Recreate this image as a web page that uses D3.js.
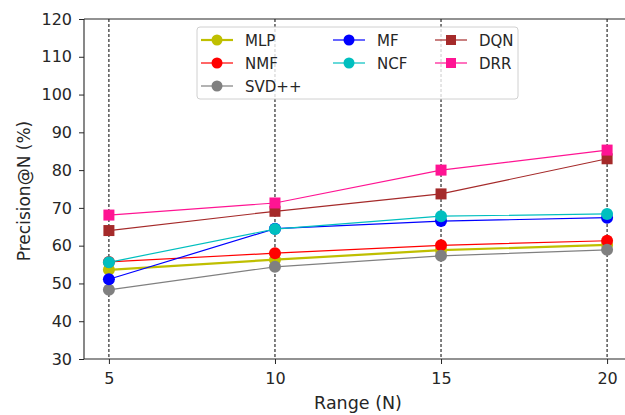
<!DOCTYPE html>
<html>
<head>
<meta charset="utf-8">
<script src="https://cdn.jsdelivr.net/npm/d3@7"></script>
<style>
  body { margin: 0; background: #fff; }
  text { font-family: "DejaVu Sans", sans-serif; fill: #262626; }
</style>
</head>
<body>
<script>
// data
var rangeN = [5, 10, 15, 20];
var yTicks = [30, 40, 50, 60, 70, 80, 90, 100, 110, 120];
var names = ["MLP", "NMF", "SVD++", "MF", "NCF", "DQN", "DRR"];
var mlp  = [53.6, 56.3, 58.8, 60.2];
var nmf  = [55.7, 58.0, 60.1, 61.3];
var svd  = [48.3, 54.4, 57.3, 58.9];
var mf   = [51.1, 64.5, 66.5, 67.4];
var ncf  = [55.6, 64.4, 67.8, 68.4];
var dqn  = [64.0, 69.1, 73.7, 83.0];
var drr  = [68.1, 71.3, 80.0, 85.3];

var series = [
  {name: names[0], vals: mlp, color: "#bfbf00", marker: "circle", w: 2.2},
  {name: names[1], vals: nmf, color: "#ff0000", marker: "circle", w: 1.2},
  {name: names[2], vals: svd, color: "#808080", marker: "circle", w: 1.2},
  {name: names[3], vals: mf,  color: "#0000ff", marker: "circle", w: 1.2},
  {name: names[4], vals: ncf, color: "#00bfbf", marker: "circle", w: 1.2},
  {name: names[5], vals: dqn, color: "#a52a2a", marker: "square", w: 1.2},
  {name: names[6], vals: drr, color: "#ff1493", marker: "square", w: 1.2}
];

var width = 625, height = 415;
var pLeft = 84, pTop = 19, pRight = 632, pBottom = 359;

var svg = d3.select("body").append("svg")
  .attr("width", width).attr("height", height);

var x = d3.scaleLinear().domain([4.25, 20.75]).range([pLeft, pRight]);
var y = d3.scaleLinear().domain([30, 120]).range([pBottom, pTop]);

// dashed vertical grid
svg.append("g").selectAll("line")
  .data(rangeN).enter().append("line")
  .attr("x1", d => x(d)).attr("x2", d => x(d))
  .attr("y1", pTop).attr("y2", pBottom)
  .attr("stroke", "#000").attr("stroke-width", 1)
  .attr("stroke-dasharray", "3,2");

// lines + markers
var line = d3.line().x((d, i) => x(rangeN[i])).y(d => y(d));
series.forEach(function(s) {
  var g = svg.append("g");
  g.append("path").attr("d", line(s.vals))
    .attr("fill", "none").attr("stroke", s.color).attr("stroke-width", s.w);
  if (s.marker == "circle") {
    g.selectAll("circle").data(s.vals).enter().append("circle")
      .attr("cx", (d, i) => x(rangeN[i])).attr("cy", d => y(d))
      .attr("r", 6).attr("fill", s.color);
  } else {
    g.selectAll("rect").data(s.vals).enter().append("rect")
      .attr("x", (d, i) => x(rangeN[i]) - 5.5).attr("y", d => y(d) - 5.5)
      .attr("width", 11).attr("height", 11).attr("fill", s.color);
  }
});

// axes
var xAxis = svg.append("g").attr("transform", "translate(0," + pBottom + ")")
  .call(d3.axisBottom(x).tickValues(rangeN).tickSize(5).tickPadding(9));
var yAxis = svg.append("g").attr("transform", "translate(" + pLeft + ",0)")
  .call(d3.axisLeft(y).tickValues(yTicks).tickSize(5).tickPadding(7));
[xAxis, yAxis].forEach(function(a) {
  a.select(".domain").remove();
  a.attr("font-family", null).attr("font-size", null);
  a.selectAll("line").attr("stroke", "#262626");
  a.selectAll("text").style("font-size", "16px").attr("fill", "#262626");
});
// spines
svg.append("line").attr("x1", pLeft).attr("x2", pRight).attr("y1", pBottom).attr("y2", pBottom)
  .attr("stroke", "#262626").attr("stroke-width", 1.1);
svg.append("line").attr("x1", pLeft).attr("x2", pRight).attr("y1", pTop).attr("y2", pTop)
  .attr("stroke", "#262626").attr("stroke-width", 1.1);
svg.append("line").attr("x1", pLeft).attr("x2", pLeft).attr("y1", pTop).attr("y2", pBottom)
  .attr("stroke", "#262626").attr("stroke-width", 1.1);

// axis labels
svg.append("text").attr("x", 358).attr("y", 409)
  .attr("text-anchor", "middle").style("font-size", "17.5px").text("Range (N)");
svg.append("text").attr("transform", "translate(30,191) rotate(-90)")
  .attr("text-anchor", "middle").style("font-size", "17px").text("Precision@N (%)");

// legend
var legend = svg.append("g");
legend.append("rect").attr("x", 197).attr("y", 27).attr("width", 321).attr("height", 72)
  .attr("rx", 3).attr("fill", "#fff").attr("fill-opacity", 0.8)
  .attr("stroke", "#d0d0d0").attr("stroke-width", 1);
var colX = [201, 333, 435];
var rowY = [40, 63, 86];
series.forEach(function(s, i) {
  var c = Math.floor(i / 3), r = i % 3;
  if (i >= 5) { c = 2; r = i - 5; }
  var lx = colX[c], ly = rowY[r];
  var item = legend.append("g");
  item.append("line").attr("x1", lx).attr("x2", lx + 32).attr("y1", ly).attr("y2", ly)
    .attr("stroke", s.color).attr("stroke-width", s.w);
  if (s.marker == "circle") {
    item.append("circle").attr("cx", lx + 16).attr("cy", ly).attr("r", 5.5).attr("fill", s.color);
  } else {
    item.append("rect").attr("x", lx + 11).attr("y", ly - 5).attr("width", 10).attr("height", 10)
      .attr("fill", s.color);
  }
  item.append("text").attr("x", lx + 44).attr("y", ly + 5.5)
    .style("font-size", "15px").text(s.name);
});
</script>
</body>
</html>
